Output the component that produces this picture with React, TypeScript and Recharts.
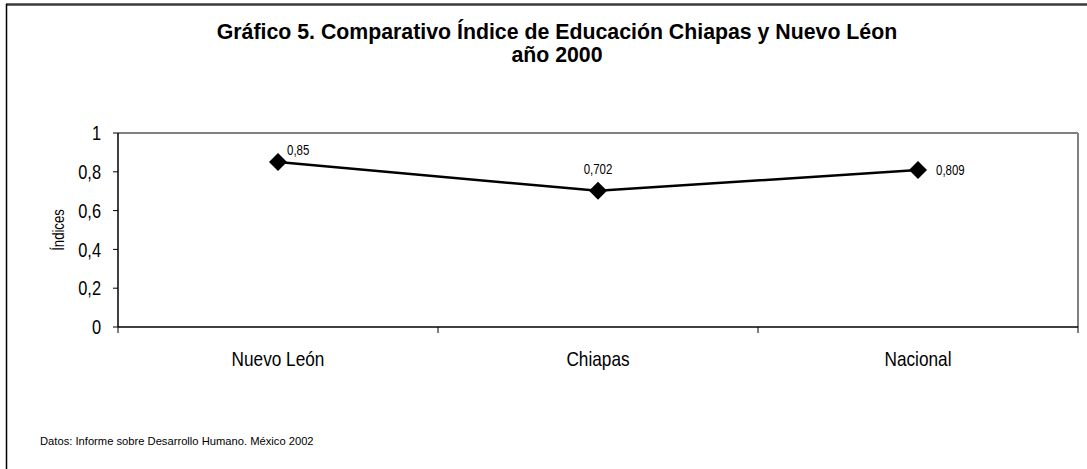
import React from 'react';
import { LineChart, Line, XAxis, YAxis, ReferenceLine, LabelList } from 'recharts';

const title1 = 'Gráfico 5. Comparativo Índice de Educación Chiapas y Nuevo Léon';
const title2 = 'año 2000';
const yAxisTitle = 'Índices';
const sourceNote = 'Datos: Informe sobre Desarrollo Humano. México 2002';

const categories = ['Nuevo León', 'Chiapas', 'Nacional'];
const values = [0.85, 0.702, 0.809];
const yTicks = [0, 0.2, 0.4, 0.6, 0.8, 1];
const yTickLabels = ['0', '0,2', '0,4', '0,6', '0,8', '1'];

// label placement style per point (not data)
const labelPlacement = ['topRight', 'top', 'right'];

const data = categories.map((name, i) => ({ pos: i + 0.5, name, value: values[i] }));
const xTicks: number[] = [];
for (let i = 0; i <= categories.length; i++) {
  xTicks.push(i);
  if (i < categories.length) xTicks.push(i + 0.5);
}

const SANS = "'Liberation Sans', Arial, sans-serif";
const NARROW_SCALE = 0.82;

const fmt = (v: number) => String(v).replace('.', ',');

const NarrowText = ({ x, y, size, anchor = 'start', rotate = 0, children }: any) => (
  <text
    transform={`translate(${x},${y})${rotate ? ` rotate(${rotate})` : ''} scale(${NARROW_SCALE},1)`}
    x={0}
    y={0}
    textAnchor={anchor}
    fontFamily={SANS}
    fontSize={size}
    fill="#000"
  >
    {children}
  </text>
);

const XTick = (props: any) => {
  const { x, y, payload } = props;
  const v = payload.value;
  if (Number.isInteger(v)) {
    return <line x1={x} x2={x} y1={y} y2={y + 6} stroke="#000" strokeWidth={1} />;
  }
  const idx = Math.floor(v);
  return (
    <NarrowText x={x} y={y + 38.5} size={21} anchor="middle">
      {categories[idx]}
    </NarrowText>
  );
};

const YTick = (props: any) => {
  const { x, y, payload } = props;
  const v = payload.value;
  const i = yTicks.indexOf(v);
  const size = 20;
  return (
    <NarrowText x={x} y={y + size * 0.355} size={size} anchor="end">
      {i >= 0 ? yTickLabels[i] : fmt(v)}
    </NarrowText>
  );
};

const Diamond = (props: any) => {
  const { cx, cy } = props;
  if (cx == null || cy == null) return null;
  const r = 9;
  return <path d={`M${cx},${cy - r}L${cx + r},${cy}L${cx},${cy + r}L${cx - r},${cy}Z`} fill="#000" stroke="none" />;
};

const PointLabel = (props: any) => {
  const { x, y, value, index } = props;
  const place = labelPlacement[index];
  let tx = x, ty = y, anchor = 'middle';
  if (place === 'topRight') { tx = x + 9; ty = y - 7; anchor = 'start'; }
  else if (place === 'top') { tx = x; ty = y - 17; anchor = 'middle'; }
  else { tx = x + 18; ty = y + 5; anchor = 'start'; }
  return (
    <NarrowText x={tx} y={ty} size={14} anchor={anchor}>
      {fmt(value)}
    </NarrowText>
  );
};

export default function App() {
  return (
    <div style={{ position: 'absolute', left: 0, top: 0, width: 1087, height: 469, background: '#fff' }}>
      <LineChart
        width={1087}
        height={469}
        data={data}
        margin={{ top: 133, right: 9, bottom: 112, left: 58 }}
      >
        <ReferenceLine y={1} stroke="#808080" strokeWidth={2} />
        <ReferenceLine x={categories.length} stroke="#808080" strokeWidth={2} />
        <XAxis
          dataKey="pos"
          type="number"
          domain={[0, categories.length]}
          ticks={xTicks}
          interval={0}
          tickLine={false}
          tickSize={0}
          tickMargin={0}
          tick={<XTick />}
          height={30}
          axisLine={{ stroke: '#000', strokeWidth: 1.5 }}
        />
        <YAxis
          type="number"
          domain={[0, 1]}
          ticks={yTicks}
          interval={0}
          width={60}
          tickSize={5}
          tickMargin={12}
          tickLine={{ stroke: '#000' }}
          axisLine={{ stroke: '#000', strokeWidth: 1.5 }}
          tick={<YTick />}
        />
        <Line
          type="linear"
          dataKey="value"
          stroke="#000"
          strokeWidth={2.5}
          dot={<Diamond />}
          activeDot={false}
          isAnimationActive={false}
        >
          <LabelList dataKey="value" content={<PointLabel />} />
        </Line>
      </LineChart>
      <svg
        width={1087}
        height={469}
        style={{ position: 'absolute', left: 0, top: 0, pointerEvents: 'none' }}
      >
        <line x1={6} x2={1087} y1={4.5} y2={4.5} stroke="#3a3a3a" strokeWidth={2.5} />
        <line x1={6.5} x2={6.5} y1={4} y2={469} stroke="#000" strokeWidth={1.5} />
        <text x={557} y={38.5} textAnchor="middle" fontFamily={SANS} fontWeight="bold" fontSize={21.3} fill="#000">
          {title1}
        </text>
        <text x={557} y={62} textAnchor="middle" fontFamily={SANS} fontWeight="bold" fontSize={21.3} fill="#000">
          {title2}
        </text>
        <NarrowText x={64} y={230} size={16} anchor="middle" rotate={-90}>
          {yAxisTitle}
        </NarrowText>
        <text x={40} y={445} fontFamily={SANS} fontSize={11.2} fill="#000">
          {sourceNote}
        </text>
      </svg>
    </div>
  );
}
